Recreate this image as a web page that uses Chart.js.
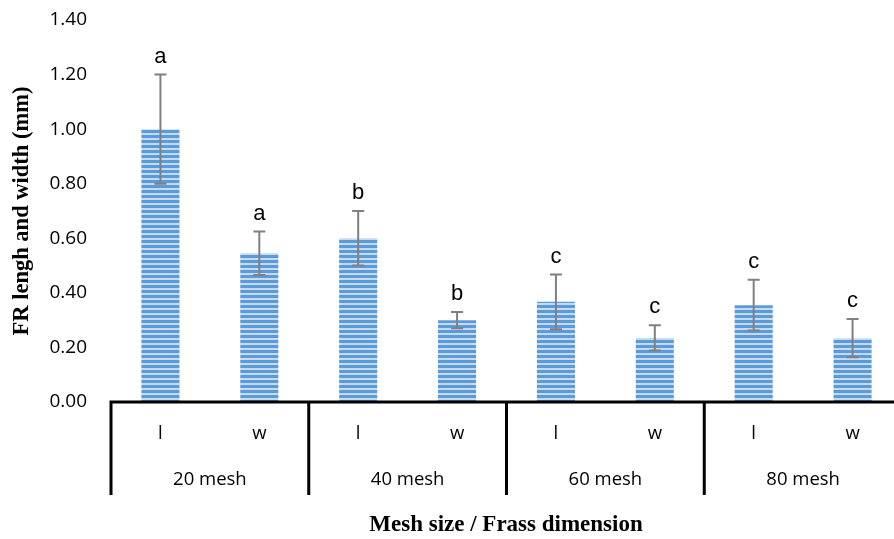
<!DOCTYPE html>
<html>
<head>
<meta charset="utf-8">
<script src="https://cdn.jsdelivr.net/npm/chart.js@4.4.1/dist/chart.umd.min.js"></script>
<style>
  html, body { margin: 0; padding: 0; background: #fff; overflow: hidden; }
  #wrap { position: relative; width: 902px; height: 539px; }
</style>
</head>
<body>
<div id="wrap"><canvas id="chart"></canvas></div>
<script>
// data
const dims = ['l', 'w', 'l', 'w', 'l', 'w', 'l', 'w'];
const meshes = ['20 mesh', '40 mesh', '60 mesh', '80 mesh'];
const means = [1.00, 0.545, 0.60, 0.30, 0.367, 0.235, 0.355, 0.234];
const errors = [0.20, 0.08, 0.10, 0.03, 0.10, 0.046, 0.093, 0.07];
const letters = ['a', 'a', 'b', 'b', 'c', 'c', 'c', 'c'];

// striped fill like the original
function stripes() {
  var c = document.createElement('canvas');
  c.width = 4; c.height = 5;
  var g = c.getContext('2d');
  g.fillStyle = '#c4dbf4';
  g.fillRect(0, 0, 4, 5);
  g.fillStyle = '#5d9ad8';
  g.fillRect(0, 0, 4, 3);
  return g.createPattern(c, 'repeat');
}

var extras = {
  id: 'extras',
  afterDatasetsDraw: function(chart) {
    var ctx = chart.ctx;
    var x = chart.scales.x, y = chart.scales.y;
    var meta = chart.getDatasetMeta(0);
    ctx.save();
    // error bars
    ctx.strokeStyle = '#808080';
    ctx.lineWidth = 2;
    meta.data.forEach(function(bar, i) {
      var top = y.getPixelForValue(means[i] + errors[i]);
      var bot = y.getPixelForValue(means[i] - errors[i]);
      ctx.beginPath();
      ctx.moveTo(bar.x, top); ctx.lineTo(bar.x, bot);
      ctx.moveTo(bar.x - 6, top); ctx.lineTo(bar.x + 6, top);
      ctx.moveTo(bar.x - 6, bot); ctx.lineTo(bar.x + 6, bot);
      ctx.stroke();
      // significance letters
      ctx.fillStyle = '#000';
      ctx.font = '22px "Liberation Sans", Arial, sans-serif';
      ctx.textAlign = 'center';
      ctx.textBaseline = 'middle';
      ctx.fillText(letters[i], bar.x, top - 18);
    });

    // two level category axis
    var base = y.getPixelForValue(0);
    var step = x.getPixelForValue(1) - x.getPixelForValue(0);
    var left = x.getPixelForValue(0) - step / 2;
    ctx.strokeStyle = '#000';
    ctx.lineWidth = 3;
    ctx.beginPath();
    ctx.moveTo(left, base); ctx.lineTo(chart.width, base);
    for (var k = 0; k <= meshes.length; k++) {
      var gx = left + k * step * 2;
      ctx.moveTo(gx, base - 1.5); ctx.lineTo(gx, base + 93);
    }
    ctx.stroke();
    ctx.fillStyle = '#000';
    ctx.font = '18.5px "Open Sans", sans-serif';
    ctx.textAlign = 'center';
    ctx.textBaseline = 'middle';
    dims.forEach(function(d, i) {
      ctx.fillText(d, x.getPixelForValue(i), base + 32);
    });
    meshes.forEach(function(m, k) {
      ctx.fillText(m, left + step * (2 * k + 1), base + 78);
    });
    // axis title
    ctx.font = 'bold 23px "Liberation Serif", "Times New Roman", serif';
    ctx.fillText('Mesh size / Frass dimension', 506, 525);
    ctx.restore();
  }
};

var ctx = document.getElementById('chart').getContext('2d');
var chart = new Chart(ctx, {
  type: 'bar',
  data: {
    labels: dims,
    datasets: [{
      data: means,
      backgroundColor: stripes(),
      borderWidth: 0,
      categoryPercentage: 1,
      barPercentage: 0.385
    }]
  },
  options: {
    responsive: true,
    maintainAspectRatio: false,
    animation: false,
    layout: { padding: { top: 20, bottom: 137, left: 0, right: 0 } },
    plugins: { legend: { display: false }, tooltip: { enabled: false } },
    scales: {
      x: { display: false },
      y: {
        min: 0, max: 1.4,
        afterFit: function(scale) {
          scale.width = 111;
          scale.paddingTop = 0;
          scale.paddingBottom = 0;
        },
        grid: { display: false },
        border: { display: false },
        ticks: {
          stepSize: 0.2,
          padding: 16,
          color: '#000',
          font: { family: '"Open Sans", sans-serif', size: 19 },
          callback: function(v) { return v.toFixed(2); }
        },
        title: {
          display: true,
          text: 'FR lengh and width (mm)',
          color: '#000',
          font: { family: '"Liberation Serif", "Times New Roman", serif', size: 22.5, weight: 'bold' },
          padding: { top: 9, bottom: 0 }
        }
      }
    }
  },
  plugins: [extras]
});
</script>
</body>
</html>
